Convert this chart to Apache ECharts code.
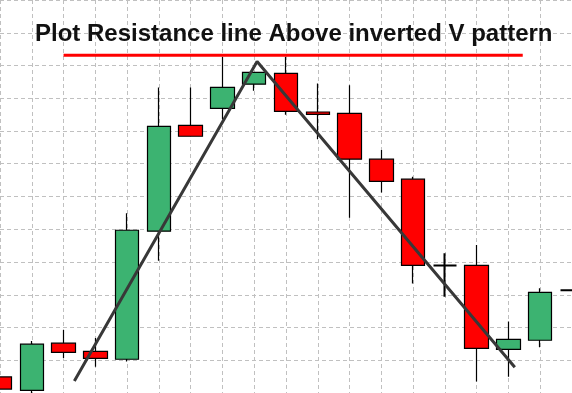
<!DOCTYPE html>
<html>
<head>
<meta charset="utf-8">
<script src="https://cdn.jsdelivr.net/npm/echarts@6/dist/echarts.min.js"></script>
<style>
  html, body { margin: 0; padding: 0; background: #fff; }
  #chart { width: 572px; height: 393px; }
</style>
</head>
<body>
<div id="chart"></div>
<script>
// bar positions (one per grid column) and prices
const barIndex = [0, 1, 2, 3, 4, 5, 6, 7, 8, 9, 10, 11, 12, 13, 14, 15, 16, 17, 18]
const openVals  = [4.9, 0.8, 15.2, 12.7, 10.3, 49.4, 81.7, 86.9, 94.3, 97.6, 85.8, 85.4, 71.4, 65.3, 38.9, 39.0, 13.3, 16.1, 31.4]
const closeVals = [1.2, 14.9, 12.4, 10.6, 49.7, 81.4, 78.4, 93.3, 97.9, 86.0, 85.1, 71.4, 64.6, 39.0, 38.9, 13.6, 16.4, 30.7, 31.4]
const lowVals   = [1.2, 0, 10.7, 8.0, 9.6, 40.4, 78.4, 83.6, 92.3, 85.0, 77.5, 53.5, 61.2, 33.4, 29.4, 3.5, 5.0, 14.0, 31.4]
const highVals  = [4.9, 15.9, 19.2, 16.8, 54.9, 93.3, 93.3, 102.6, 97.9, 102.7, 94.5, 94.0, 74.2, 66.0, 42.7, 45.2, 21.8, 32.0, 31.4]

// resistance line above the pattern
const resistanceLine = [[2.0, 103.1], [16.45, 103.1]]
// inverted V (up leg, top, down leg)
const vPattern = [[2.34, 3.7], [8.09, 101.2], [16.2, 7.85]]

// dojis (open == close) get a thicker body line
const candles = barIndex.map((x, i) => {
  const value = [x, openVals[i], closeVals[i], lowVals[i], highVals[i]]
  return openVals[i] === closeVals[i]
    ? { value, itemStyle: { borderWidth: 2 } }
    : value
})

const chart = echarts.init(document.getElementById('chart'))

chart.setOption({
  backgroundColor: '#fff',
  animation: false,
  title: {
    text: 'Plot Resistance line Above inverted V pattern',
    left: 35,
    top: 22,
    padding: 0,
    textStyle: {
      fontFamily: 'Liberation Sans, Arial, sans-serif',
      fontWeight: 'bold',
      fontSize: 24,
      color: '#111'
    }
  },
  grid: { left: -1, right: -3, top: 0, bottom: 0 },
  xAxis: {
    type: 'value',
    min: 0,
    max: 18,
    interval: 1,
    axisLine: { show: false },
    axisTick: { show: false },
    axisLabel: { show: false },
    splitLine: { show: true, lineStyle: { color: '#c0c0c0', type: [4, 3], width: 1 } }
  },
  yAxis: {
    type: 'value',
    min: 0,
    max: 120,
    interval: 10,
    axisLine: { show: false },
    axisTick: { show: false },
    axisLabel: { show: false },
    splitLine: { show: true, lineStyle: { color: '#c0c0c0', type: [4, 3], width: 1 } }
  },
  series: [
    {
      type: 'candlestick',
      barWidth: 24,
      encode: { x: 0, y: [1, 2, 3, 4] },
      itemStyle: {
        color: '#3CB371',
        color0: '#FF0000',
        borderColor: '#000',
        borderColor0: '#000',
        borderColorDoji: '#000',
        borderWidth: 1.2
      },
      data: candles
    },
    {
      type: 'line',
      symbol: 'none',
      z: 5,
      lineStyle: { color: '#FF0000', width: 3 },
      data: resistanceLine
    },
    {
      type: 'line',
      symbol: 'none',
      z: 5,
      lineStyle: { color: '#383838', width: 3 },
      data: vPattern
    }
  ]
})
</script>
</body>
</html>
